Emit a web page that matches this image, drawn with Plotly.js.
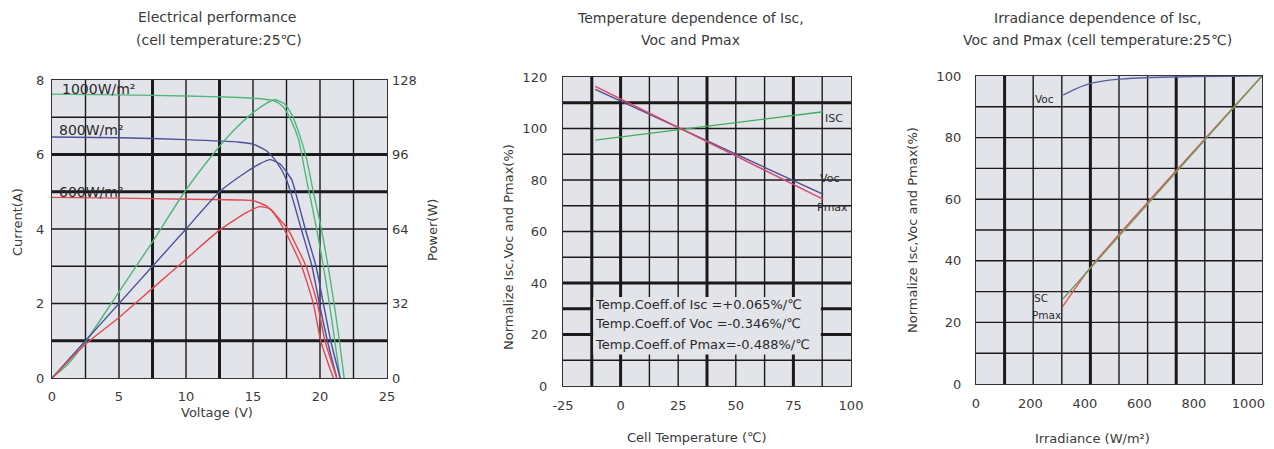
<!DOCTYPE html>
<html>
<head>
<meta charset="utf-8">
<script src="https://cdn.plot.ly/plotly-3.0.1.min.js"></script>
<style>html,body{margin:0;padding:0;background:#fff;}#chart{width:1274px;height:449px;}</style>
</head>
<body>
<div id="chart"></div>
<script>
// ---------- Chart 1 : Electrical performance (I-V and P-V) ----------
const ivV1000 = [0, 5, 10, 14, 15.5, 16.5, 17.2, 17.8, 18.4, 18.9, 19.3, 19.75, 20.25, 20.7, 21.1, 21.5];
const ivI1000 = [7.62, 7.6, 7.57, 7.53, 7.5, 7.45, 7.3, 6.95, 6.4, 5.5, 4.8, 4.0, 3.0, 2.0, 1.0, 0];
const pvV1000 = [0, 1.2, 2.5, 5, 7.5, 9.9, 12, 13.5, 15, 16, 16.6, 17.3, 17.9, 18.5, 19.0, 19.5, 20.1, 20.6, 21.05, 21.45, 21.8];
const pvP1000 = [0, 6, 15.5, 37, 58.5, 80, 96, 106, 114, 118, 119.5, 118, 113, 104, 94, 80, 64, 48, 32, 16, 0];

const ivV800 = [0, 5, 10, 14, 15, 16, 16.8, 17.5, 18.05, 18.6, 19.4, 19.95, 20.55, 21.25];
const ivI800 = [6.47, 6.45, 6.4, 6.33, 6.28, 6.1, 5.78, 5.32, 4.7, 4.0, 3.0, 2.0, 1.0, 0];
const pvV800 = [0, 2.5, 5, 7.5, 10, 12.5, 14.5, 15.5, 16.3, 17.0, 17.5, 17.9, 18.3, 18.9, 19.7, 20.25, 20.8, 21.5];
const pvP800 = [0, 16, 32, 48, 64, 80, 88.5, 92, 93.8, 92, 88.5, 85, 77, 64, 48, 32, 16, 0];

const ivV600 = [0, 5, 10, 14, 15, 16, 16.6, 17.3, 18.0, 18.63, 19.5, 20.05, 20.55, 21.0];
const ivI600 = [4.85, 4.83, 4.8, 4.78, 4.76, 4.62, 4.4, 4.0, 3.5, 3.0, 2.0, 1.0, 0.45, 0];
const pvV600 = [0, 2.5, 5, 7.5, 10, 12.5, 14.5, 15.5, 16.3, 17.0, 17.6, 18.3, 18.96, 19.8, 20.37, 21.25];
const pvP600 = [0, 14.5, 26, 38.5, 51, 63.5, 71, 73.6, 72.5, 68, 64, 56, 48, 32, 16, 0];

const irradianceLabels = ["1000W/m²", "800W/m²", "600W/m²"];
const voltageTicks = [0, 5, 10, 15, 20, 25];
const currentTicks = [0, 2, 4, 6, 8];
const powerTicks = [0, 32, 64, 96, 128];

// ---------- Chart 2 : Temperature dependence ----------
const cellTemp = [-11, 88];
const tempIsc = [95.5, 106.5];
const tempVoc = [115.2, 74.4];
const tempPmax = [116.4, 72.5];
const tempTicks = [-25, 0, 25, 50, 75, 100];
const normTicks2 = [0, 20, 40, 60, 80, 100, 120];
const coeffLines = [
  "Temp.Coeff.of Isc =+0.065%/℃",
  "Temp.Coeff.of Voc =-0.346%/℃",
  "Temp.Coeff.of Pmax=-0.488%/℃"
];

// ---------- Chart 3 : Irradiance dependence ----------
const irrIscX = [318, 1050];
const irrIscY = [27.5, 100];
const irrPmaxX = [318, 420, 1050];
const irrPmaxY = [25.1, 37.8, 100];
const irrVocX = [320, 360, 418, 470, 529, 639, 800, 1050];
const irrVocY = [93.8, 95.6, 97.5, 98.4, 99.0, 99.5, 99.8, 100];
const irrTicks = [0, 200, 400, 600, 800, 1000];
const normTicks3 = [0, 20, 40, 60, 80, 100];

// ---------- styling ----------
const W = 1274, H = 449;
const fx = p => p / W;
const fy = p => 1 - p / H;
const FONT = "DejaVu Sans";
const TXT = "#3a3a3a";
const BG = "#e3e4ea";
const GRID = "#1a1a1a";
const GREEN = "#4fb67a", BLUE = "#4a4f9e", RED = "#e4474c";

function line(x, y, xa, ya, color, name) {
  return {x: x, y: y, xaxis: xa, yaxis: ya, type: "scatter", mode: "lines",
    line: {color: color, width: 1.4, shape: "spline", smoothing: 0.6}, name: name, hoverinfo: "skip"};
}

const traces = [
  line(ivV1000, ivI1000, "x", "y", GREEN, "I-V 1000"),
  line(ivV800, ivI800, "x", "y", BLUE, "I-V 800"),
  line(ivV600, ivI600, "x", "y", RED, "I-V 600"),
  line(pvV1000, pvP1000, "x", "y2", GREEN, "P-V 1000"),
  line(pvV800, pvP800, "x", "y2", BLUE, "P-V 800"),
  line(pvV600, pvP600, "x", "y2", RED, "P-V 600"),
  line(cellTemp, tempIsc, "x2", "y3", "#3fae5a", "Isc"),
  line(cellTemp, tempVoc, "x2", "y3", "#4d4d96", "Voc"),
  line(cellTemp, tempPmax, "x2", "y3", "#d9476b", "Pmax"),
  line(irrPmaxX, irrPmaxY, "x3", "y4", "#e5504c", "Pmax"),
  line(irrIscX, irrIscY, "x3", "y4", "#6c9c5c", "Isc"),
  line(irrVocX, irrVocY, "x3", "y4", "#5560a0", "Voc")
];

// grid lines as shapes
const shapes = [];
function vline(xref, yref, v, thick) {
  shapes.push({type: "line", layer: "below", xref: xref, yref: yref + " domain", x0: v, x1: v, y0: 0, y1: 1,
    line: {color: GRID, width: thick ? 3 : 1.4}});
}
function hline(xref, yref, v, thick) {
  shapes.push({type: "line", layer: "below", xref: xref + " domain", yref: yref, x0: 0, x1: 1, y0: v, y1: v,
    line: {color: GRID, width: thick ? 3 : 1.4}});
}
// chart 1
for (let k = 1; k <= 9; k++) vline("x", "y", 2.5 * k, k === 3 || k === 5);
for (let k = 1; k <= 7; k++) hline("x", "y", k, k === 1 || k === 5 || k === 6);
// chart 2
for (let k = 0; k <= 8; k++) { const v = -12.5 + 12.5 * k; vline("x2", "y3", v, [-12.5, 0, 37.5, 75].includes(v)); }
for (let k = 1; k <= 11; k++) hline("x2", "y3", 10 * k, [110, 40, 30, 20].includes(10 * k));
// text box blanking in chart 2
shapes.push({type: "rect", layer: "below", xref: "x2", yref: "y3", x0: -11.9, x1: 86.9, y0: 12.2, y1: 34.6,
  fillcolor: BG, line: {width: 0}});
// chart 3
for (let k = 1; k <= 9; k++) vline("x3", "y4", 105 * k, [1, 4, 7, 9].includes(k));
for (let k = 1; k <= 9; k++) hline("x3", "y4", 10 * k, false);

const axBase = {showgrid: false, zeroline: false, showline: true, mirror: true, linecolor: "#333", linewidth: 1.2,
  ticks: "", tickfont: {family: FONT, size: 13, color: TXT}, fixedrange: true};

const layout = {
  width: W, height: H, autosize: false, showlegend: false,
  margin: {l: 0, r: 0, t: 0, b: 0},
  paper_bgcolor: "#ffffff", plot_bgcolor: BG,
  font: {family: FONT, color: TXT},
  xaxis: Object.assign({}, axBase, {domain: [fx(52), fx(387)], anchor: "y", range: [0, 25], tickvals: voltageTicks, ticklabelstandoff: 6}),
  yaxis: Object.assign({}, axBase, {domain: [fy(378), fy(80)], anchor: "x", range: [0, 8], tickvals: currentTicks, ticklabelstandoff: 4}),
  yaxis2: Object.assign({}, axBase, {overlaying: "y", side: "right", anchor: "x", showline: false, range: [0, 128], tickvals: powerTicks, ticklabelstandoff: 4}),
  xaxis2: Object.assign({}, axBase, {domain: [fx(563), fx(851)], anchor: "y3", range: [-25, 100], tickvals: tempTicks,
    ticktext: tempTicks.map(String), ticklabelstandoff: 7}),
  yaxis3: Object.assign({}, axBase, {domain: [fy(386), fy(77)], anchor: "x2", range: [0, 120], tickvals: normTicks2, ticklabelstandoff: 12}),
  xaxis3: Object.assign({}, axBase, {domain: [fx(976), fx(1262)], anchor: "y4", range: [0, 1050], tickvals: irrTicks, ticklabelstandoff: 7}),
  yaxis4: Object.assign({}, axBase, {domain: [fy(384), fy(76)], anchor: "x3", range: [0, 100], tickvals: normTicks3, ticklabelstandoff: 11}),
  shapes: shapes,
  annotations: []
};

function ptext(text, x, y, size, angle) {
  layout.annotations.push({text: text, xref: "paper", yref: "paper", x: fx(x), y: fy(y), showarrow: false,
    xanchor: "center", yanchor: "middle", textangle: angle || 0, font: {family: FONT, size: size, color: TXT}});
}
function dtext(text, xref, yref, x, y, size, xanchor) {
  layout.annotations.push({text: text, xref: xref, yref: yref, x: x, y: y, showarrow: false,
    xanchor: xanchor || "center", yanchor: "middle", font: {family: FONT, size: size, color: "#2a2a2a"}});
}

// titles
ptext("Electrical performance", 217, 17, 14);
ptext("(cell temperature:25℃)", 219, 40, 14);
ptext("Temperature dependence of Isc,", 690, 18, 14);
ptext("Voc and Pmax", 690, 40, 14);
ptext("Irradiance dependence of Isc,", 1097, 18, 14);
ptext("Voc and Pmax (cell temperature:25℃)", 1097, 40, 14);
// axis titles
ptext("Voltage (V)", 217, 412, 13);
ptext("Current(A)", 17, 222, 13, -90);
ptext("Power(W)", 432, 230, 13, -90);
ptext("Cell Temperature (℃)", 697, 437, 13);
ptext("Normalize Isc,Voc and Pmax(%)", 508, 247, 13, -90);
ptext("Irradiance (W/m²)", 1092, 438, 13);
ptext("Normalize Isc,Voc and Pmax(%)", 912, 230, 13, -90);

// chart 1 curve labels
dtext(irradianceLabels[0], "x", "y", 0.6, 7.75, 14, "left");
dtext(irradianceLabels[1], "x", "y", 0.4, 6.65, 14, "left");
dtext(irradianceLabels[2], "x", "y", 0.4, 5.0, 14, "left");
// chart 2 labels
dtext("ISC", "x2", "y3", 92.5, 104, 11);
dtext("Voc", "x2", "y3", 90.5, 80.5, 11);
dtext("Pmax", "x2", "y3", 92, 69.5, 11);
coeffLines.forEach((t, i) => dtext(t, "x2", "y3", -11.8, [31.7, 24.1, 16.3][i], 13, "left"));
// chart 3 labels
dtext("Voc", "x3", "y4", 253, 92.5, 10.5);
dtext("SC", "x3", "y4", 240, 28, 10.5);
dtext("Pmax", "x3", "y4", 260, 22.5, 10.5);

Plotly.newPlot("chart", traces, layout, {staticPlot: true, displayModeBar: false});
</script>
</body>
</html>
